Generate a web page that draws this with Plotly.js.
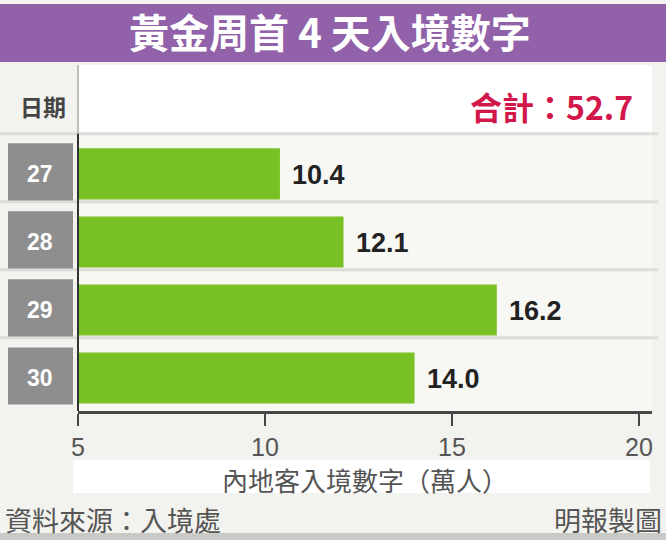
<!DOCTYPE html>
<html>
<head>
<meta charset="utf-8">
<script src="https://cdn.plot.ly/plotly-3.0.1.min.js"></script>
<style>
  body { margin: 0; background: #f2f2ee; }
</style>
</head>
<body>
<div id="chart" style="width:666px;height:540px"></div>
<script>
// data
var days = ['27', '28', '29', '30'];
var visitors = [10.4, 12.1, 16.2, 14.0];
var xTicks = [5, 10, 15, 20];

var chartTitle = '黃金周首 4 天入境數字';
var dayHeader = '日期';
var totalLabel = '合計：';
var axisTitle = '內地客入境數字（萬人）';
var sourceText = '資料來源：入境處';
var creditText = '明報製圖';

var cjk = '"Noto Sans CJK TC", "Noto Sans CJK SC", sans-serif';
var latin = '"Liberation Sans", Arial, sans-serif';

// page geometry
var W = 666, H = 540, L = 78, R = 14, T = 65, B = 129;
var plotW = W - L - R, plotH = H - T - B;
function px(x){ return (x - L) / plotW; }
function py(y){ return (H - B - y) / plotH; }

var total = 0;
for (let i = 0; i < visitors.length; i++){
    total += visitors[i];
}

var shapes = [];
// purple banner
shapes.push({type: 'rect', xref: 'paper', yref: 'paper', x0: px(0), x1: px(W), y0: py(62), y1: py(4),
    fillcolor: '#9162a9', line: {width: 0}, layer: 'below'});
// white header row inside plot
shapes.push({type: 'rect', xref: 'paper', yref: 'y', x0: 0, x1: 1, y0: -1.6, y1: -0.59,
    fillcolor: '#ffffff', line: {width: 0}, layer: 'below'});
// white box behind axis title
shapes.push({type: 'rect', xref: 'paper', yref: 'paper', x0: px(73), x1: px(650), y0: py(493), y1: py(460),
    fillcolor: '#ffffff', line: {width: 0}, layer: 'below'});
// bottom strip
shapes.push({type: 'rect', xref: 'paper', yref: 'paper', x0: px(0), x1: px(W), y0: py(540), y1: py(533),
    fillcolor: '#c9c9c5', line: {width: 0}, layer: 'below'});

// row separators + gray day boxes
for (let i = 0; i < days.length; i++){
    shapes.push({type: 'line', xref: 'paper', yref: 'y', x0: px(0), x1: px(658), y0: i - 0.59, y1: i - 0.59,
        line: {color: '#dcdcd8', width: 3}, layer: 'below'});
    shapes.push({type: 'rect', xref: 'paper', yref: 'y', x0: px(8), x1: px(73), y0: i - 0.45, y1: i + 0.39,
        fillcolor: '#8e8e8e', line: {width: 0}});
}
// left vertical line
shapes.push({type: 'line', xref: 'paper', yref: 'y', x0: 0, x1: 0, y0: -1.6, y1: -0.59,
    line: {color: '#bdbdbd', width: 2}});
shapes.push({type: 'line', xref: 'paper', yref: 'y', x0: 0, x1: 0, y0: -0.59, y1: 3.485,
    line: {color: '#333333', width: 2}});

var annotations = [];
for (let i = 0; i < days.length; i++){
    // category axis: position annotations by category index
    annotations.push({
        xref: 'paper', yref: 'y', x: px(40), y: i, text: days[i], showarrow: false,
        xanchor: 'center', yanchor: 'middle',
        font: {family: latin, size: 23, color: '#ffffff', weight: 'bold'}
    });
    annotations.push({
        xref: 'x', yref: 'y', x: visitors[i], y: i, text: visitors[i].toFixed(1), showarrow: false,
        xanchor: 'left', yanchor: 'middle', xshift: 10, yshift: -1,
        font: {family: latin, size: 27, color: '#222222', weight: 'bold'}
    });
}
annotations.push({
    xref: 'paper', yref: 'y', x: px(43), y: -1, text: dayHeader, showarrow: false,
    xanchor: 'center', yanchor: 'middle',
    font: {family: cjk, size: 23, color: '#444444', weight: 'bold'}
});
annotations.push({
    xref: 'paper', yref: 'y', x: px(635), y: -1, text: totalLabel + total.toFixed(1), showarrow: false,
    xanchor: 'right', yanchor: 'middle',
    font: {family: cjk, size: 32, color: '#d2174a', weight: 'bold'}
});
annotations.push({
    xref: 'paper', yref: 'paper', x: px(3), y: py(519), text: sourceText, showarrow: false,
    xanchor: 'left', yanchor: 'middle',
    font: {family: cjk, size: 27, color: '#555555'}
});
annotations.push({
    xref: 'paper', yref: 'paper', x: px(664), y: py(519), text: creditText, showarrow: false,
    xanchor: 'right', yanchor: 'middle',
    font: {family: cjk, size: 27, color: '#555555'}
});

var trace = {
    type: 'bar',
    orientation: 'h',
    x: visitors,
    y: days,
    width: 0.75,
    marker: {color: '#78c125', line: {width: 0}},
    hoverinfo: 'x+y'
};

var layout = {
    width: W,
    height: H,
    margin: {l: L, r: R, t: T, b: B, pad: 0},
    paper_bgcolor: '#f2f2ee',
    plot_bgcolor: '#f7f7f4',
    showlegend: false,
    title: {
        text: chartTitle,
        xref: 'container', yref: 'container',
        x: 330 / W, y: 1 - 34 / H, xanchor: 'center', yanchor: 'middle',
        font: {family: cjk, size: 40, color: '#ffffff', weight: 'bold'}
    },
    xaxis: {
        range: [5, 20.35],
        tickvals: xTicks,
        ticktext: xTicks.map(String),
        ticks: 'outside',
        ticklen: 12,
        tickwidth: 2,
        tickcolor: '#444444',
        showline: true,
        linecolor: '#474747',
        linewidth: 3,
        showgrid: false,
        zeroline: false,
        fixedrange: true,
        tickfont: {family: latin, size: 25, color: '#555555'},
        title: {
            text: axisTitle,
            standoff: 10,
            font: {family: cjk, size: 26, color: '#555555'}
        }
    },
    yaxis: {
        type: 'category',
        categoryorder: 'array',
        categoryarray: days,
        range: [3.485, -1.6],
        showticklabels: false,
        showgrid: false,
        zeroline: false,
        showline: false,
        ticks: '',
        fixedrange: true
    },
    shapes: shapes,
    annotations: annotations
};

Plotly.newPlot('chart', [trace], layout, {displayModeBar: false, staticPlot: true});
</script>
</body>
</html>
